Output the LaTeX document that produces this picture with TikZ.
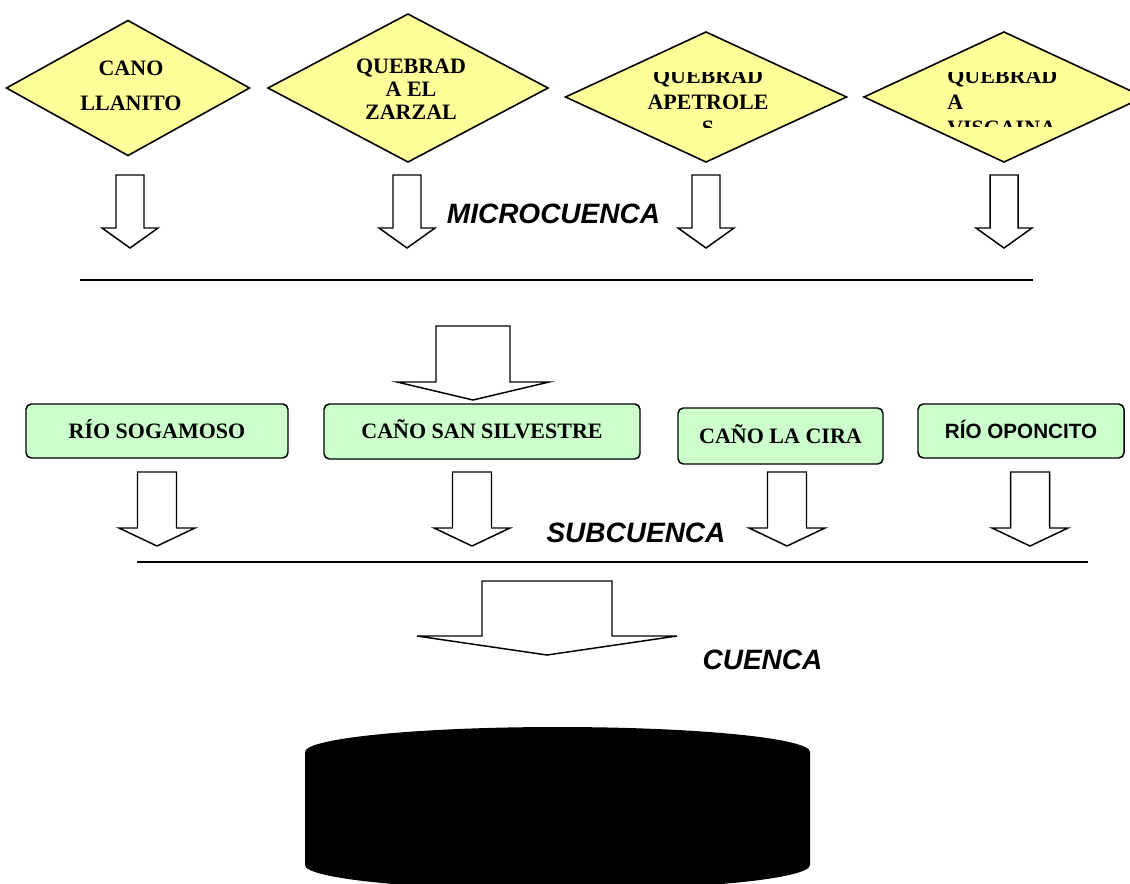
\documentclass[tikz,border=0pt]{standalone}
\usepackage{fontspec}
\setmainfont{Liberation Serif}
\setsansfont{Liberation Sans}
\usetikzlibrary{shapes.geometric}
\definecolor{amarillo}{HTML}{FFFF99}
\definecolor{verdeclaro}{HTML}{CCFFCC}
% flecha de bloque: centro x, arriba, base de la punta, punta, medio cuerpo, media punta
\newcommand{\flecha}[6]{%
  \draw[bloque] (#1-#5,#2) -- (#1+#5,#2) -- (#1+#5,#3) -- (#1+#6,#3)
    -- (#1,#4) -- (#1-#6,#3) -- (#1-#5,#3) -- cycle;}
\begin{document}
\begin{tikzpicture}[x=0.75pt,y=-0.75pt,
    bloque/.style={draw, line width=1.1pt, fill=white, line join=miter},
    rombo/.style={diamond, draw, fill=amarillo, line width=1.2pt, inner sep=0pt, outer sep=0pt},
    caja/.style={rectangle, rounded corners=4pt, draw, fill=verdeclaro, line width=1.1pt,
                 text height=11pt, text depth=0pt, font=\fontsize{16.5}{19}\selectfont\bfseries},
    texto/.style={inner sep=0pt, align=center},
    rotulo/.style={font=\fontsize{21}{25}\selectfont\sffamily\bfseries\itshape}]
        \useasboundingbox (0,0) rectangle (1130,883);
        \clip (0,0) rectangle (1130,883);

        % Microcuencas
        \node[rombo, minimum width=182.25pt, minimum height=101.25pt] (llanito) at (128,88) {};
        \node[rombo, minimum width=210pt, minimum height=111pt] (zarzal) at (408,88) {};
        \node[rombo, minimum width=210.75pt, minimum height=97.5pt] (petroles) at (706,97) {};
        \node[rombo, minimum width=210pt, minimum height=97.5pt] (viscaina) at (1004,97) {};

        \node[texto, font=\fontsize{16.5}{26.25}\selectfont\bfseries] (tllanito) at (131,85.5) {CANO\\LLANITO};
        \node[texto, font=\fontsize{16.5}{17.25}\selectfont\bfseries] (tzarzal) at (411,89.5) {QUEBRAD\\A EL\\ZARZAL};
        \begin{scope}
            \clip (566,72) rectangle (847,127);
            \node[texto, font=\fontsize{16.5}{19.5}\selectfont\bfseries] (tpetroles) at (708,102.5) {QUEBRAD\\APETROLE\\S};
        \end{scope}
        \begin{scope}
            \clip (864,72) rectangle (1130,126);
            \node[texto, align=left, anchor=west, font=\fontsize{16.5}{19.5}\selectfont\bfseries] (tviscaina) at (947,102.5) {QUEBRAD\\A\\VISCAINA};
        \end{scope}

        % Flechas hacia la linea de microcuenca
        \foreach \cx in {130,407,706,1004}
            \flecha{\cx}{175}{228}{248}{14}{28};
        \node[rotulo] (micro) at (553.5,214) {MICROCUENCA};
        \draw[line width=1pt] (80,280) coordinate (m1) -- (1033,280) coordinate (m2);

        % Flecha grande hacia las subcuencas
        \flecha{473}{326}{382}{400}{37}{76}

        % Subcuencas
        \node[caja, minimum width=196.5pt, minimum height=40.5pt] (sogamoso) at (157,431) {RÍO SOGAMOSO};
        \node[caja, minimum width=237pt, minimum height=41.25pt] (silvestre) at (482,431.5) {CAÑO SAN SILVESTRE};
        \node[caja, minimum width=153.75pt, minimum height=42pt] (cira) at (780.5,436) {CAÑO LA CIRA};
        \node[caja, minimum width=154.5pt, minimum height=40.5pt, font=\fontsize{15.5}{18}\selectfont\sffamily\bfseries] (oponcito) at (1021,431) {RÍO OPONCITO};

        \foreach \cx in {157,472,787,1030}
            \flecha{\cx}{472}{528}{546}{19.5}{38};
        \node[rotulo] (sub) at (636,533) {SUBCUENCA};
        \draw[line width=1pt] (137,562) coordinate (s1) -- (1088,562) coordinate (s2);

        % Cuenca
        \flecha{547}{581}{636}{655}{65}{130}
        \node[rotulo] (cuenca) at (762.5,660) {CUENCA};

        % Deposito
        \fill (305,865) -- (305,752) arc[start angle=180, end angle=0, x radius=189.4pt, y radius=18.75pt]
            -- (810,865) arc[start angle=0, end angle=-180, x radius=189.4pt, y radius=18.75pt] -- cycle;
\end{tikzpicture}
\end{document}
